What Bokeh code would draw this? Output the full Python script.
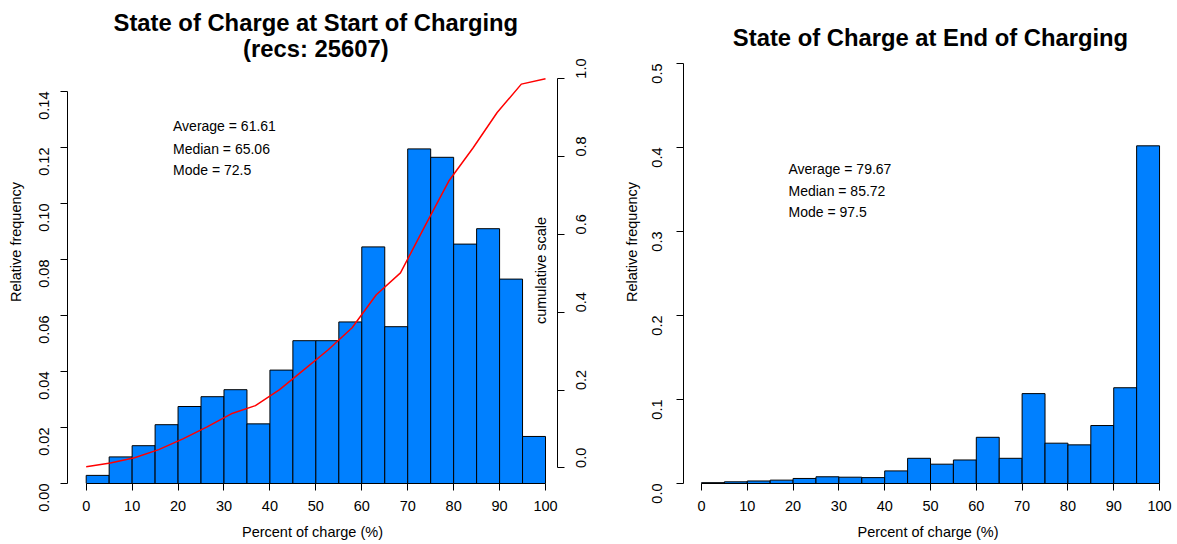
import math
from bokeh.plotting import figure
from bokeh.models import Range1d, LinearAxis, FixedTicker, PrintfTickFormatter, Label
from bokeh.layouts import row
from bokeh.embed import file_html
from bokeh.resources import INLINE

# ---------------- data ----------------
bin_left = [0, 5, 10, 15, 20, 25, 30, 35, 40, 45, 50, 55, 60, 65, 70, 75, 80, 85, 90, 95]
bin_right = [5, 10, 15, 20, 25, 30, 35, 40, 45, 50, 55, 60, 65, 70, 75, 80, 85, 90, 95, 100]

start_freq = [0.0029, 0.0095, 0.0135, 0.0210, 0.0275, 0.0310, 0.0335, 0.0213, 0.0405, 0.0510,
              0.0510, 0.0577, 0.0845, 0.0560, 0.1195, 0.1165, 0.0855, 0.0910, 0.0730, 0.0168]
start_cum_index = [1, 2, 3, 4, 5, 6, 7, 8, 9, 10, 11, 12, 13, 14, 15, 16, 17, 18, 19, 20]
start_cum = [0.003, 0.0125, 0.026, 0.047, 0.0745, 0.1055, 0.139, 0.160, 0.201, 0.252,
             0.303, 0.360, 0.445, 0.501, 0.620, 0.737, 0.822, 0.913, 0.986, 1.000]

end_freq = [0.001, 0.002, 0.003, 0.004, 0.006, 0.008, 0.0075, 0.007, 0.015, 0.030,
            0.023, 0.028, 0.055, 0.030, 0.107, 0.048, 0.046, 0.069, 0.114, 0.402]

x_ticks = [0, 10, 20, 30, 40, 50, 60, 70, 80, 90, 100]
start_y_ticks = [0.0, 0.02, 0.04, 0.06, 0.08, 0.10, 0.12, 0.14]
cum_ticks = [0.0, 0.2, 0.4, 0.6, 0.8, 1.0]
end_y_ticks = [0.0, 0.1, 0.2, 0.3, 0.4, 0.5]

start_title = ["State of Charge at Start of Charging", "(recs: 25607)"]
end_title = "State of Charge at End of Charging"
start_stats = ["Average = 61.61", "Median = 65.06", "Mode = 72.5"]
end_stats = ["Average = 79.67", "Median = 85.72", "Mode = 97.5"]

FONT = "Liberation Sans"
BAR = "#0080FF"

# frame geometry (page pixels): frames span y 0..483, data zero at y=483
Y0 = 483.0
PX_START = 2800.0        # px per unit, left primary axis
PX_CUM = 389.25          # px per unit, cumulative axis
PX_END = 840.0           # px per unit, right chart axis


def style_axis(ax):
    ax.axis_line_color = "black"
    ax.axis_line_width = 1
    ax.major_tick_line_color = "black"
    ax.minor_tick_line_color = None
    ax.major_tick_in = 0
    ax.major_tick_out = 7
    ax.major_label_text_font = FONT
    ax.major_label_text_font_size = "14.5px"
    ax.major_label_text_color = "black"
    ax.axis_label_text_font = FONT
    ax.axis_label_text_font_size = "14.5px"
    ax.axis_label_text_font_style = "normal"
    ax.axis_label_text_color = "black"


def base_fig(width, x_start, x_end, y_end, bl, br):
    p = figure(width=width, height=543, output_backend="svg", toolbar_location=None,
               x_range=Range1d(x_start, x_end), y_range=Range1d(0, y_end),
               min_border_left=bl, min_border_right=br, min_border_top=0, min_border_bottom=60,
               x_axis_type=None, y_axis_type=None)
    p.outline_line_color = None
    p.background_fill_color = "white"
    p.border_fill_color = "white"
    p.grid.visible = False
    return p


# ---------------- left chart ----------------
p1 = base_fig(620, -4.071, 102.61, Y0 / PX_START, 67, 63)
p1.quad(left=bin_left, right=bin_right, bottom=0, top=start_freq,
        fill_color=BAR, line_color="black", line_width=1)

p1.extra_x_ranges = {"idx": Range1d(0.2265, 20.496)}
p1.extra_y_ranges = {"cum": Range1d(-0.040, -0.040 + Y0 / PX_CUM)}
p1.line(start_cum_index, start_cum, x_range_name="idx", y_range_name="cum",
        line_color="#FF0000", line_width=1.5)

xa1 = LinearAxis(ticker=FixedTicker(ticks=x_ticks), axis_label="Percent of charge (%)",
                 bounds=(0, 100), major_label_standoff=10, axis_label_standoff=10)
style_axis(xa1)
p1.add_layout(xa1, "below")

ya1 = LinearAxis(ticker=FixedTicker(ticks=start_y_ticks), formatter=PrintfTickFormatter(format="%.2f"),
                 axis_label="Relative frequency", bounds=(0, 0.14),
                 major_label_orientation=math.pi / 2, major_label_standoff=17, axis_label_standoff=7)
style_axis(ya1)
p1.add_layout(ya1, "left")

ca1 = LinearAxis(y_range_name="cum", ticker=FixedTicker(ticks=cum_ticks),
                 formatter=PrintfTickFormatter(format="%.1f"), bounds=(0, 1.0),
                 major_label_orientation=math.pi / 2, major_label_standoff=17)
style_axis(ca1)
p1.add_layout(ca1, "right")

p1.add_layout(Label(x=99.0, y=(Y0 - 270) / PX_START, text="cumulative scale", angle=math.pi / 2,
                    text_align="center", text_baseline="middle", text_font=FONT,
                    text_font_size="14.5px", text_color="black"))

for txt, ypx in zip(start_title, [22, 47.5]):
    p1.add_layout(Label(x=50, y=(Y0 - ypx) / PX_START, text=txt, text_align="center",
                        text_baseline="middle", text_font=FONT, text_font_size="23.8px",
                        text_font_style="bold", text_color="black"))

for txt, ypx in zip(start_stats, [125, 148, 169]):
    p1.add_layout(Label(x=18.9, y=(Y0 - ypx) / PX_START, text=txt, text_align="left",
                        text_baseline="middle", text_font=FONT, text_font_size="14px",
                        text_color="black"))

# ---------------- right chart ----------------
p2 = base_fig(556, -3.922, 102.83, Y0 / PX_END, 62, 4)
p2.quad(left=bin_left, right=bin_right, bottom=0, top=end_freq,
        fill_color=BAR, line_color="black", line_width=1)

xa2 = LinearAxis(ticker=FixedTicker(ticks=x_ticks), axis_label="Percent of charge (%)",
                 bounds=(0, 100), major_label_standoff=10, axis_label_standoff=10)
style_axis(xa2)
p2.add_layout(xa2, "below")

ya2 = LinearAxis(ticker=FixedTicker(ticks=end_y_ticks), formatter=PrintfTickFormatter(format="%.1f"),
                 axis_label="Relative frequency", bounds=(0, 0.5),
                 major_label_orientation=math.pi / 2, major_label_standoff=20, axis_label_standoff=4)
style_axis(ya2)
p2.add_layout(ya2, "left")

p2.add_layout(Label(x=50, y=(Y0 - 37) / PX_END, text=end_title, text_align="center",
                    text_baseline="middle", text_font=FONT, text_font_size="23.8px",
                    text_font_style="bold", text_color="black"))

for txt, ypx in zip(end_stats, [168, 190, 211]):
    p2.add_layout(Label(x=19.0, y=(Y0 - ypx) / PX_END, text=txt, text_align="left",
                        text_baseline="middle", text_font=FONT, text_font_size="14px",
                        text_color="black"))

layout = row(p1, p2)
open("out.html", "w").write(file_html(layout, INLINE))
